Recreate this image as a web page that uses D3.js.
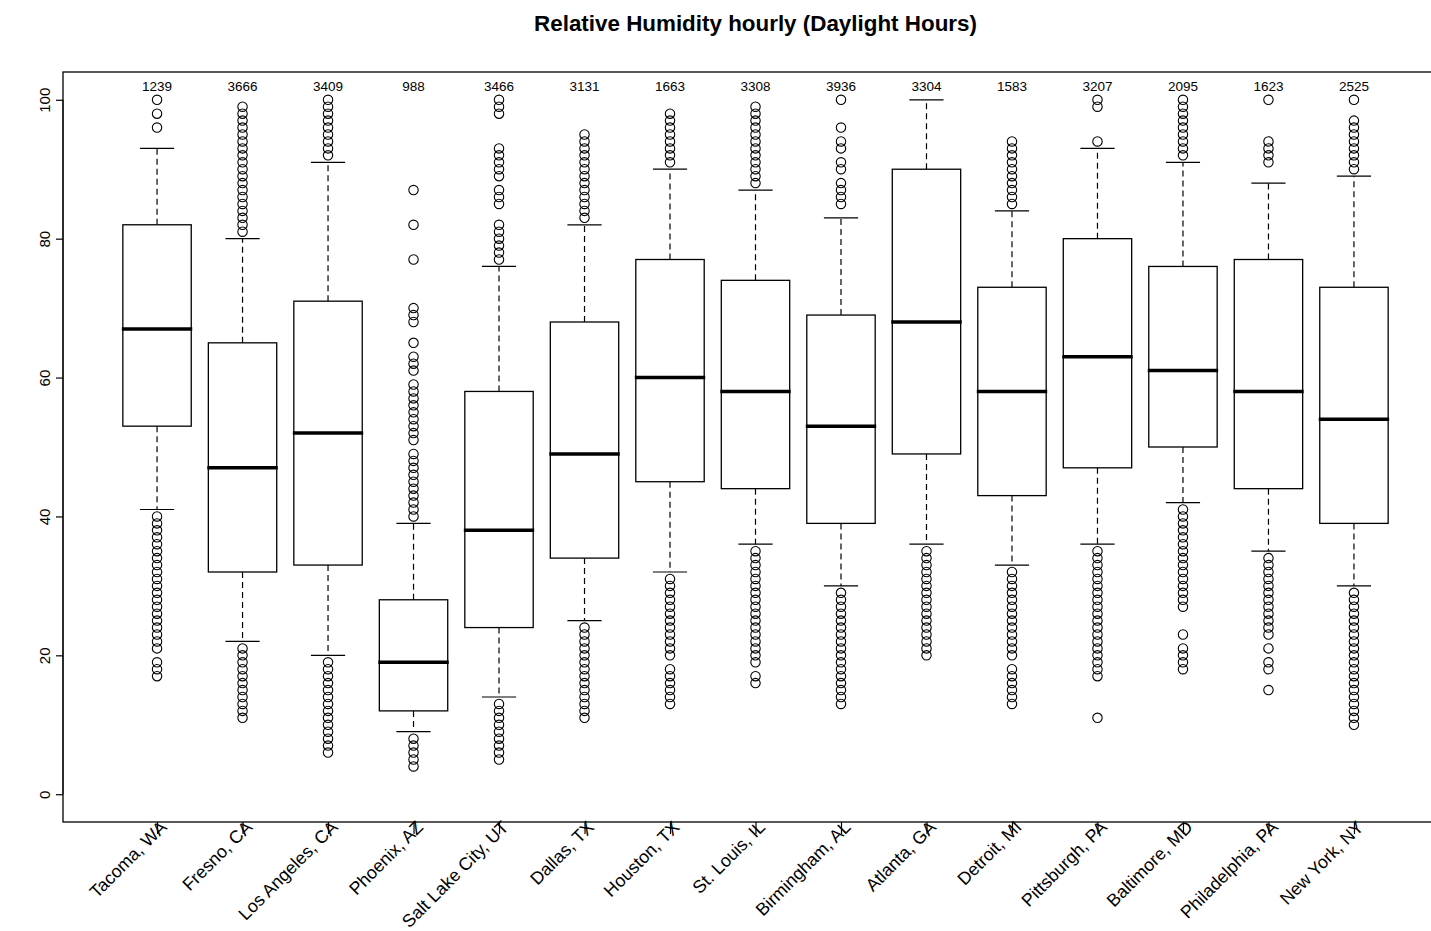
<!DOCTYPE html>
<html>
<head>
<meta charset="utf-8">
<style>
  body { margin: 0; background: #fff; }
  svg { font-family: "Liberation Sans", Arial, Helvetica, sans-serif; }
</style>
</head>
<body>
<svg></svg>
<script src="https://d3js.org/d3.v7.min.js"></script>
<script>

var width = 1431,
    height = 931;

// cities in plotting order
var cities = ["Tacoma, WA", "Fresno, CA", "Los Angeles, CA", "Phoenix, AZ", "Salt Lake City, UT",
  "Dallas, TX", "Houston, TX", "St. Louis, IL", "Birmingham, AL", "Atlanta, GA",
  "Detroit, MI", "Pittsburgh, PA", "Baltimore, MD", "Philadelphia, PA", "New York, NY"];

var counts  = [1239, 3666, 3409, 988, 3466, 3131, 1663, 3308, 3936, 3304, 1583, 3207, 2095, 1623, 2525];

// box statistics
var whiskLo = [41, 22, 20,  9, 14, 25, 32, 36, 30,  36, 33, 36, 42, 35, 30];
var q1      = [53, 32, 33, 12, 24, 34, 45, 44, 39,  49, 43, 47, 50, 44, 39];
var medians = [67, 47, 52, 19, 38, 49, 60, 58, 53,  68, 58, 63, 61, 58, 54];
var q3      = [82, 65, 71, 28, 58, 68, 77, 74, 69,  90, 73, 80, 76, 77, 73];
var whiskHi = [93, 80, 91, 39, 76, 82, 90, 87, 83, 100, 84, 93, 91, 88, 89];

// outliers, one list per city
var outliers = [
  [100, 98, 96, 40, 39, 38, 37, 36, 35, 34, 33, 32, 31, 30, 29, 28, 27, 26, 25, 24, 23, 22, 21, 19, 18, 17],
  [99, 98, 97, 96, 95, 94, 93, 92, 91, 90, 89, 88, 87, 86, 85, 84, 83, 82, 81,
   21, 20, 19, 18, 17, 16, 15, 14, 13, 12, 11],
  [100, 99, 98, 97, 96, 95, 94, 93, 92,
   19, 18, 17, 16, 15, 14, 13, 12, 11, 10, 9, 8, 7, 6],
  [87, 82, 77, 70, 69, 68, 65, 63, 62, 61, 59, 58, 57, 56, 55, 54, 53, 52, 51,
   49, 48, 47, 46, 45, 44, 43, 42, 41, 40, 8, 7, 6, 5, 4],
  [100, 99, 98, 93, 92, 91, 90, 89, 87, 86, 85, 82, 81, 80, 79, 78, 77,
   13, 12, 11, 10, 9, 8, 7, 6, 5],
  [95, 94, 93, 92, 91, 90, 89, 88, 87, 86, 85, 84, 83,
   24, 23, 22, 21, 20, 19, 18, 17, 16, 15, 14, 13, 12, 11],
  [98, 97, 96, 95, 94, 93, 92, 91,
   31, 30, 29, 28, 27, 26, 25, 24, 23, 22, 21, 20, 18, 17, 16, 15, 14, 13],
  [99, 98, 97, 96, 95, 94, 93, 92, 91, 90, 89, 88,
   35, 34, 33, 32, 31, 30, 29, 28, 27, 26, 25, 24, 23, 22, 21, 20, 19, 17, 16],
  [100, 96, 94, 93, 91, 90, 88, 87, 86, 85,
   29, 28, 27, 26, 25, 24, 23, 22, 21, 20, 19, 18, 17, 16, 15, 14, 13],
  [35, 34, 33, 32, 31, 30, 29, 28, 27, 26, 25, 24, 23, 22, 21, 20],
  [94, 93, 92, 91, 90, 89, 88, 87, 86, 85,
   32, 31, 30, 29, 28, 27, 26, 25, 24, 23, 22, 21, 20, 18, 17, 16, 15, 14, 13],
  [100, 99, 94,
   35, 34, 33, 32, 31, 30, 29, 28, 27, 26, 25, 24, 23, 22, 21, 20, 19, 18, 17, 11],
  [100, 99, 98, 97, 96, 95, 94, 93, 92,
   41, 40, 39, 38, 37, 36, 35, 34, 33, 32, 31, 30, 29, 28, 27, 23, 21, 20, 19, 18],
  [100, 94, 93, 92, 91,
   34, 33, 32, 31, 30, 29, 28, 27, 26, 25, 24, 23, 21, 19, 18, 15],
  [100, 97, 96, 95, 94, 93, 92, 91, 90,
   29, 28, 27, 26, 25, 24, 23, 22, 21, 20, 19, 18, 17, 16, 15, 14, 13, 12, 11, 10]
];

var yTicks = [0, 20, 40, 60, 80, 100];

var svg = d3.select("svg")
    .attr("width", width)
    .attr("height", height);

// R style: xlim 0.5..15.5 plus 4%, ylim 0..100 plus 4%
var x = d3.scaleLinear().domain([-0.1, 16.1]).range([63, 1448]);
var y = d3.scaleLinear().domain([-4, 104]).range([822, 72]);

var boxW = x(0.8) - x(0);
var capW = x(0.4) - x(0);

// TITLE
svg.append("text")
    .attr("x", (x.range()[0] + x.range()[1]) / 2)
    .attr("y", 31)
    .attr("text-anchor", "middle")
    .style("font-size", "22.4px")
    .style("font-weight", "bold")
    .text("Relative Humidity hourly (Daylight Hours)");

var g = svg.selectAll("g.city")
    .data(cities)
    .enter()
    .append("g")
    .attr("class", "city");

// whiskers
g.append("line")
    .attr("x1", function(d, i) { return x(i + 1); })
    .attr("x2", function(d, i) { return x(i + 1); })
    .attr("y1", function(d, i) { return y(q3[i]); })
    .attr("y2", function(d, i) { return y(whiskHi[i]); })
    .attr("stroke", "#000").attr("stroke-width", 1.2).attr("stroke-dasharray", "6,4");
g.append("line")
    .attr("x1", function(d, i) { return x(i + 1); })
    .attr("x2", function(d, i) { return x(i + 1); })
    .attr("y1", function(d, i) { return y(q1[i]); })
    .attr("y2", function(d, i) { return y(whiskLo[i]); })
    .attr("stroke", "#000").attr("stroke-width", 1.2).attr("stroke-dasharray", "6,4");

// staples
[whiskHi, whiskLo].forEach(function(arr) {
  g.append("line")
      .attr("x1", function(d, i) { return x(i + 1) - capW / 2; })
      .attr("x2", function(d, i) { return x(i + 1) + capW / 2; })
      .attr("y1", function(d, i) { return y(arr[i]); })
      .attr("y2", function(d, i) { return y(arr[i]); })
      .attr("stroke", "#000").attr("stroke-width", 1.2);
});

// boxes
g.append("rect")
    .attr("x", function(d, i) { return x(i + 1) - boxW / 2; })
    .attr("y", function(d, i) { return y(q3[i]); })
    .attr("width", boxW)
    .attr("height", function(d, i) { return y(q1[i]) - y(q3[i]); })
    .attr("fill", "#fff")
    .attr("stroke", "#000")
    .attr("stroke-width", 1.3);

// medians
g.append("line")
    .attr("x1", function(d, i) { return x(i + 1) - boxW / 2 - 1; })
    .attr("x2", function(d, i) { return x(i + 1) + boxW / 2 + 1; })
    .attr("y1", function(d, i) { return y(medians[i]); })
    .attr("y2", function(d, i) { return y(medians[i]); })
    .attr("stroke", "#000").attr("stroke-width", 3.5);

// OUTLIERS
g.each(function(d, i) {
  d3.select(this).selectAll("circle")
      .data(outliers[i])
      .enter()
      .append("circle")
      .attr("cx", x(i + 1))
      .attr("cy", function(v) { return y(v); })
      .attr("r", 4.7)
      .attr("fill", "none")
      .attr("stroke", "#000")
      .attr("stroke-width", 1.1);
});

// counts
g.append("text")
    .attr("x", function(d, i) { return x(i + 1); })
    .attr("y", y(101.9))
    .attr("text-anchor", "middle")
    .attr("dominant-baseline", "central")
    .style("font-size", "13.5px")
    .text(function(d, i) { return counts[i]; });

// plot frame
svg.append("rect")
    .attr("x", x.range()[0])
    .attr("y", y.range()[1])
    .attr("width", x.range()[1] - x.range()[0])
    .attr("height", y.range()[0] - y.range()[1])
    .attr("fill", "none")
    .attr("stroke", "#000")
    .attr("stroke-width", 1.3);

// Y AXIS
var yAxis = svg.append("g")
    .attr("transform", "translate(" + x.range()[0] + ",0)")
    .call(d3.axisLeft(y).tickValues(yTicks).tickSize(7).tickPadding(0));
yAxis.select(".domain")
    .attr("d", "M0," + y(0) + "V" + y(100));
yAxis.selectAll(".tick line").attr("stroke-width", 1.2);
yAxis.selectAll("text")
    .attr("x", -19)
    .attr("dy", null)
    .attr("text-anchor", "middle")
    .attr("dominant-baseline", "central")
    .attr("transform", "rotate(-90,-19,0)")
    .style("font-size", "15px")
    .style("font-family", "Liberation Sans, Arial, sans-serif")
    .attr("fill", "#000");

// X AXIS
var xAxis = svg.append("g")
    .attr("transform", "translate(0," + y.range()[0] + ")")
    .call(d3.axisBottom(x).tickValues(d3.range(1, 16)).tickSize(12)
      .tickFormat(function(i) { return cities[i - 1]; }));
xAxis.select(".domain").remove();
xAxis.selectAll(".tick line").attr("stroke-width", 1.2);
xAxis.selectAll("text")
    .attr("x", 6)
    .attr("y", 2)
    .attr("dy", null)
    .attr("text-anchor", "end")
    .attr("dominant-baseline", "central")
    .attr("transform", "rotate(-45,6,2)")
    .style("font-size", "17.8px")
    .style("font-family", "Liberation Sans, Arial, sans-serif")
    .attr("fill", "#000");

</script>
</body>
</html>
